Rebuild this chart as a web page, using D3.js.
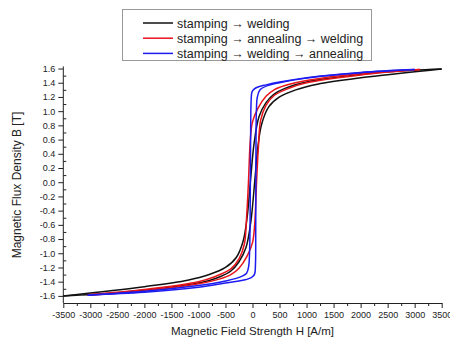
<!DOCTYPE html>
<html>
<head>
<meta charset="utf-8">
<script src="https://cdn.jsdelivr.net/npm/d3@7"></script>
<style>
body { margin: 0; background: #fff; }
text { font-family: "Liberation Sans", Arial, sans-serif; fill: #222; }
.axis path, .axis line { stroke: #222; stroke-width: 1; }
</style>
</head>
<body>
<script>
// [H (A/m), B (T)], one array per loop branch
var blackDown = [[3500,1.595],[2500,1.555],[1500,1.47],[1000,1.41],[600,1.32],[400,1.24],[250,1.12],[120,0.92],[30,0.55],[-40,0.0],[-100,-0.5],[-170,-0.82],[-300,-1.06],[-500,-1.2],[-800,-1.3],[-1200,-1.38],[-2000,-1.47],[-3500,-1.6]];
var blackUp = [[-3500,-1.6],[-2500,-1.555],[-1500,-1.475],[-1000,-1.42],[-600,-1.33],[-400,-1.25],[-250,-1.12],[-120,-0.92],[-30,-0.55],[40,0.0],[100,0.5],[170,0.82],[300,1.06],[500,1.2],[800,1.3],[1200,1.38],[2000,1.47],[3500,1.595]];

var redDown = [[3100,1.585],[2000,1.53],[1000,1.43],[600,1.36],[400,1.3],[250,1.21],[100,1.04],[0,0.85],[-40,0.6],[-75,0.0],[-110,-0.5],[-150,-0.87],[-250,-1.08],[-400,-1.22],[-700,-1.33],[-1000,-1.4],[-2000,-1.51],[-3050,-1.585]];
var redUp = [[-3050,-1.59],[-2000,-1.53],[-1000,-1.43],[-600,-1.36],[-400,-1.3],[-250,-1.21],[-100,-1.04],[0,-0.85],[40,-0.6],[75,0.0],[110,0.5],[150,0.87],[250,1.08],[400,1.22],[700,1.33],[1000,1.4],[2000,1.51],[3100,1.585]];

var blueDown = [[3000,1.585],[2000,1.545],[1000,1.47],[500,1.41],[250,1.37],[100,1.34],[30,1.31],[-10,1.27],[-25,1.15],[-35,0.6],[-40,0.0],[-45,-0.6],[-55,-1.0],[-70,-1.18],[-110,-1.28],[-250,-1.34],[-500,-1.39],[-1000,-1.455],[-2000,-1.535],[-3050,-1.59]];
var blueUp = [[-3050,-1.59],[-2000,-1.55],[-1000,-1.48],[-500,-1.42],[-250,-1.39],[-80,-1.36],[0,-1.33],[40,-1.29],[55,-1.15],[60,-0.6],[62,0.0],[65,0.6],[72,1.0],[90,1.2],[140,1.3],[280,1.36],[500,1.4],[1000,1.465],[2000,1.54],[3000,1.585]];

var seriesNames = ["stamping \u2192 welding", "stamping \u2192 annealing \u2192 welding", "stamping \u2192 welding \u2192 annealing"];
var seriesColors = ["#111111", "#e8141a", "#1c1cf0"];
var xTicks = d3.range(-3500, 3501, 500);
var yTicks = d3.range(-16, 17, 2).map(function(d){ return d / 10; });

var width = 450, height = 339;
var svg = d3.select("body").append("svg")
	.attr("width", width)
	.attr("height", height);

var x = d3.scaleLinear().domain([-3500, 3500]).range([63.3, 441.7]);
var y = d3.scaleLinear().domain([-1.7, 1.63]).range([303, 66.4]);

function hyphen(f){
	return function(d){ return f(d).replace("\u2212", "-"); };
}

// minor ticks
svg.append("g")
	.attr("class", "axis")
	.attr("transform", "translate(0,303)")
	.call(d3.axisBottom(x).tickValues(d3.range(-3250, 3500, 500)).tickSize(3).tickFormat(""))
	.select(".domain").remove();
svg.append("g")
	.attr("class", "axis")
	.attr("transform", "translate(63.3,0)")
	.call(d3.axisRight(y).tickValues(d3.range(-15, 16, 2).map(function(d){ return d / 10; })).tickSize(3).tickFormat(""))
	.select(".domain").remove();

var xAxis = svg.append("g")
	.attr("class", "axis")
	.attr("transform", "translate(0,303)")
	.call(d3.axisBottom(x).tickValues(xTicks).tickSize(5).tickSizeOuter(0).tickPadding(4).tickFormat(hyphen(d3.format("d"))));
xAxis.selectAll("text").style("font-size", "9px");

var yAxis = svg.append("g")
	.attr("class", "axis")
	.attr("transform", "translate(63.3,0)")
	.call(d3.axisLeft(y).tickValues(yTicks).tickSize(5).tickSizeOuter(0).tickPadding(3).tickFormat(hyphen(d3.format(".1f"))));
yAxis.selectAll("text").style("font-size", "9px");
yAxis.select(".domain").attr("d", "M0," + y(1.63) + "V" + y(-1.7));

svg.append("text")
	.attr("x", 252.5)
	.attr("y", 335)
	.attr("text-anchor", "middle")
	.style("font-size", "11.5px")
	.text("Magnetic Field Strength H [A/m]");

svg.append("text")
	.attr("transform", "translate(21,185) rotate(-90)")
	.attr("text-anchor", "middle")
	.style("font-size", "12px")
	.text("Magnetic Flux Density B [T]");

var line = d3.line()
	.x(function(d){ return x(d[0]); })
	.y(function(d){ return y(d[1]); })
	.curve(d3.curveCatmullRom.alpha(0.5));

var loops = [[blackDown, blackUp], [redDown, redUp], [blueDown, blueUp]];
loops.forEach(function(branches, i){
	branches.forEach(function(branch){
		svg.append("path")
			.datum(branch)
			.attr("fill", "none")
			.attr("stroke", seriesColors[i])
			.attr("stroke-width", 1.5)
			.attr("d", line);
	});
});

// legend
var legend = svg.append("g").attr("class", "legend");
legend.append("rect")
	.attr("x", 122.5).attr("y", 9.5)
	.attr("width", 249).attr("height", 51)
	.attr("fill", "#fff")
	.attr("stroke", "#999");
var rows = legend.selectAll("g.row")
	.data(seriesNames)
	.enter()
	.append("g")
	.attr("class", "row")
	.attr("transform", function(d, i){ return "translate(0," + (23 + i * 15.2) + ")"; });
rows.append("line")
	.attr("x1", 143).attr("x2", 173)
	.attr("y1", 0).attr("y2", 0)
	.attr("stroke", function(d, i){ return seriesColors[i]; })
	.attr("stroke-width", 1.5);
rows.append("text")
	.attr("x", 177)
	.attr("y", 4.5)
	.style("font-size", "12.5px")
	.text(function(d){ return d; });
</script>
</body>
</html>
